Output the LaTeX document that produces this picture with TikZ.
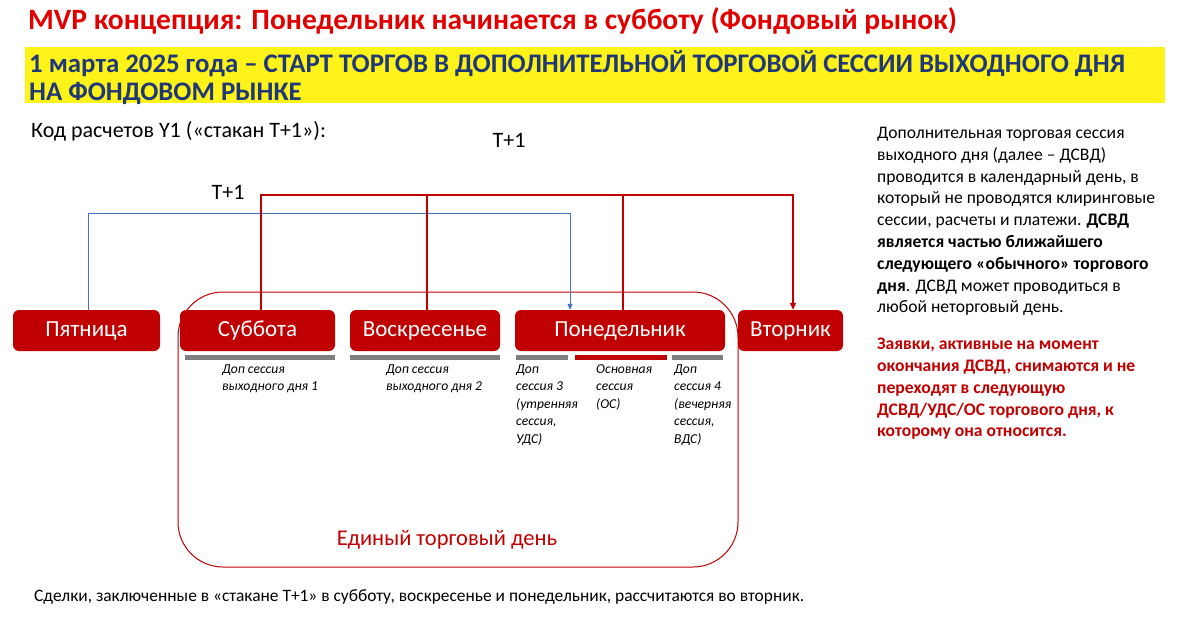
\documentclass[tikz,border=0pt]{standalone}
\usepackage{fontspec}
\setmainfont{Carlito}
\usetikzlibrary{arrows.meta}
\definecolor{dred}{RGB}{192,0,0}
\definecolor{tred}{RGB}{224,0,0}
\definecolor{navy}{RGB}{31,56,120}
\definecolor{bblue}{RGB}{68,114,196}
\definecolor{gbar}{RGB}{128,128,128}
\begin{document}
\begin{tikzpicture}[x=1pt,y=-1pt,
 day/.style={draw=none,fill=dred,rounded corners=6pt,text=white,font=\fontsize{23}{26}\selectfont,minimum height=41pt,inner sep=0pt,text height=16pt,text depth=5pt},
 lab/.style={anchor=north west,align=left,font=\itshape\fontsize{13.6}{17.5}\selectfont,inner sep=0pt},
 rl/.style={draw=dred,line width=1.3pt},
 bl/.style={draw=bblue,line width=1pt},
 gb/.style={draw=gbar,line width=5pt},
 rb/.style={draw=dred,line width=5pt}]
\useasboundingbox (0,0) rectangle (1200,621);
\node[anchor=west,inner sep=0pt,text=tred,font=\bfseries\fontsize{29.5}{32}\selectfont] (title) at (28,21) {MVP концепция: Понедельник начинается в субботу (Фондовый рынок)};
\fill[yellow!90!white] (25,47) rectangle (1165,103);
\node[anchor=north west,inner sep=0pt,align=left,text=navy,font=\bfseries\fontsize{26.8}{28}\selectfont] (sub) at (29,50) {1 марта 2025 года – СТАРТ ТОРГОВ В ДОПОЛНИТЕЛЬНОЙ ТОРГОВОЙ СЕССИИ ВЫХОДНОГО ДНЯ\\НА ФОНДОВОМ РЫНКЕ};
\node[anchor=west,inner sep=0pt,font=\fontsize{22}{24}\selectfont] (code) at (31,131) {Код расчетов Y1 («стакан Т+1»):};
\node[inner sep=0pt,font=\fontsize{22}{24}\selectfont] (t1a) at (509,140) {T+1};
\node[inner sep=0pt,font=\fontsize{22}{24}\selectfont] (t1b) at (228,192) {T+1};

\draw[draw=dred,line width=1pt,rounded corners=45pt] (178,292) rectangle (738,567);
\node[inner sep=0pt,text=dred,font=\fontsize{22.5}{24}\selectfont] (edin) at (447,540) {Единый торговый день};

\node[day,minimum width=147pt] (fri) at (86.5,330.5) {Пятница};
\node[day,minimum width=155pt] (sat) at (257.5,330.5) {Суббота};
\node[day,minimum width=150pt] (sun) at (425,330.5) {Воскресенье};
\node[day,minimum width=210pt] (mon) at (620,330.5) {Понедельник};
\node[day,minimum width=105pt] (tue) at (790.5,330.5) {Вторник};

\draw[gb] (185,357) -- (335,357);
\draw[gb] (350,357) -- (500,357);
\draw[gb] (516,357) -- (568,357);
\draw[rb] (575,357) -- (667,357);
\draw[gb] (672,357) -- (723,357);
\node[lab] (l1) at (222,361) {\strut Доп сессия\\выходного дня 1};
\node[lab] (l2) at (386,361) {\strut Доп сессия\\выходного дня 2};
\node[lab] (l3) at (516,361) {\strut Доп\\сессия 3\\(утренняя\\сессия,\\УДС)};
\node[lab] (l4) at (596,361) {\strut Основная\\сессия\\(ОС)};
\node[lab] (l5) at (674,361) {\strut Доп\\сессия 4\\(вечерняя\\сессия,\\ВДС)};

\coordinate (bt) at (570,213);
\draw[bl,-{Triangle[length=6pt,width=5pt]}] (fri.north -| 88,0) |- (bt) -- (bt |- mon.north);
\coordinate (rt) at (793,195);
\draw[rl,-{Triangle[length=7pt,width=6pt]}] (sat.north -| 261,0) |- (rt) -- (rt |- tue.north);
\draw[rl] (sun.north -| 427,0) -- (427,195);
\draw[rl] (mon.north -| 623,0) -- (623,195);

\node[anchor=north west,inner sep=0pt,align=left,font=\fontsize{17.6}{21.8}\selectfont] (rt1) at (877,127) {Дополнительная торговая сессия\\выходного дня (далее – ДСВД)\\проводится в календарный день, в\\который не проводятся клиринговые\\сессии, расчеты и платежи. \textbf{ДСВД}\\\textbf{является частью ближайшего}\\\textbf{следующего «обычного» торгового}\\\textbf{дня}. ДСВД может проводиться в\\любой неторговый день.};
\node[anchor=north west,inner sep=0pt,align=left,text=dred,font=\bfseries\fontsize{17.6}{21.8}\selectfont] (rt2) at (877,338) {Заявки, активные на момент\\окончания ДСВД, снимаются и не\\переходят в следующую\\ДСВД/УДС/ОС торгового дня, к\\которому она относится.};
\node[anchor=west,inner sep=0pt,font=\fontsize{17.4}{19}\selectfont] (foot) at (34,597) {Сделки, заключенные в «стакане Т+1» в субботу, воскресенье и понедельник, рассчитаются во вторник.};
\end{tikzpicture}
\end{document}
